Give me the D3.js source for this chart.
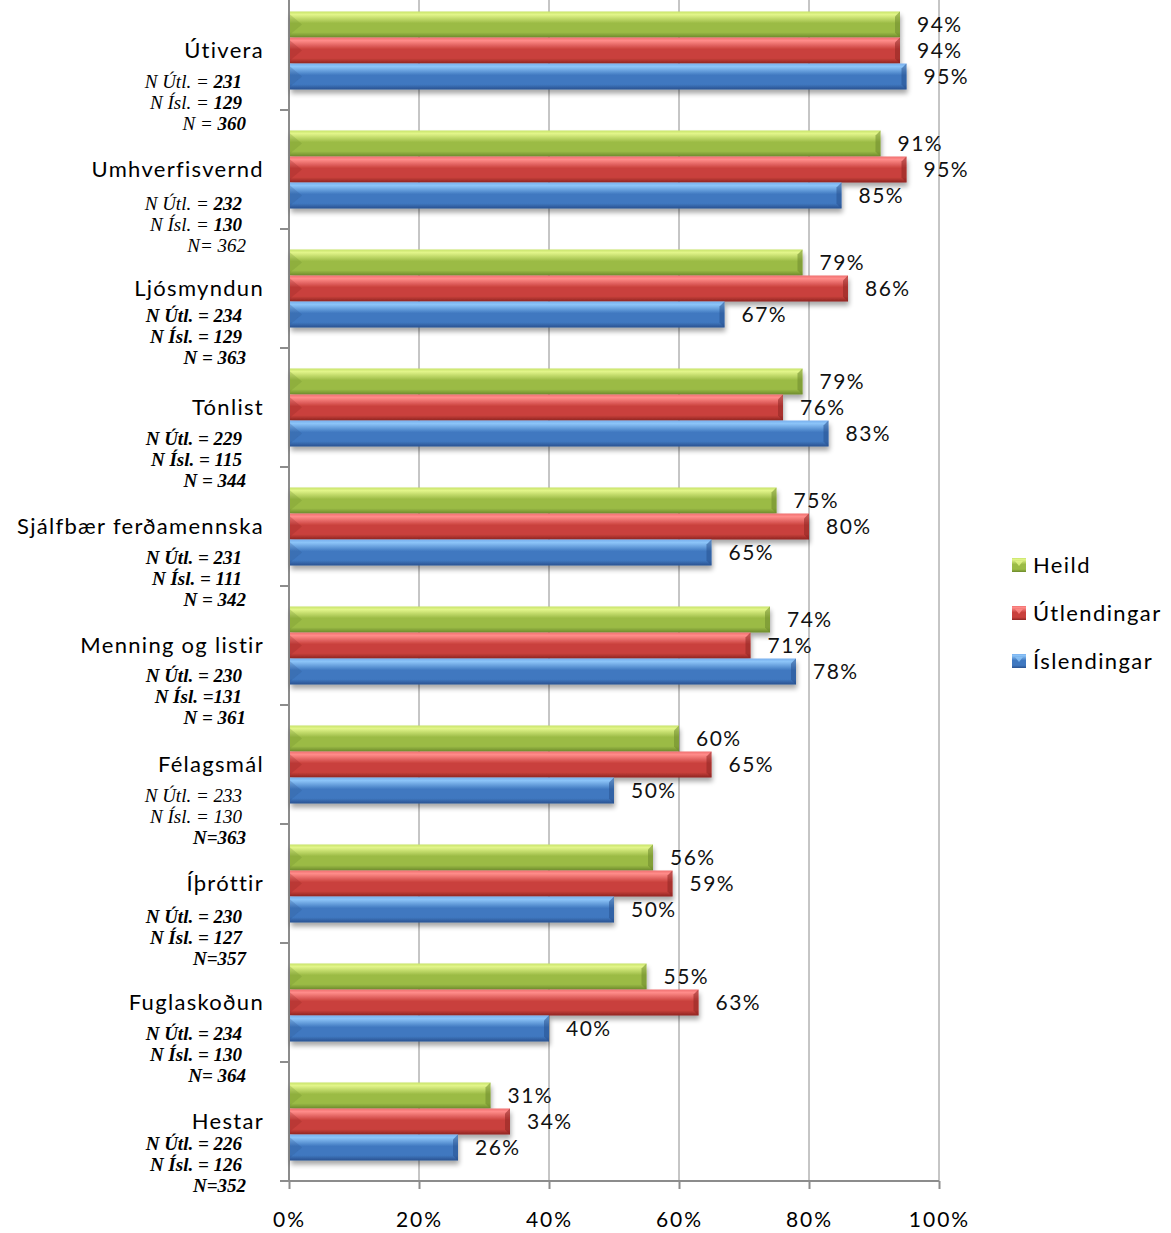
<!DOCTYPE html>
<html>
<head>
<meta charset="utf-8">
<script src="https://cdn.jsdelivr.net/npm/d3@7"></script>
<style>
  body { margin: 0; background: #fff; }
  text { font-family: Lato, "Open Sans", sans-serif; }
  .nlab { font-family: "Liberation Serif", serif; font-style: italic; }
</style>
</head>
<body>
<div id="chart"></div>
<script>
// categories, top to bottom
var categories = ["Útivera", "Umhverfisvernd", "Ljósmyndun", "Tónlist", "Sjálfbær ferðamennska",
    "Menning og listir", "Félagsmál", "Íþróttir", "Fuglaskoðun", "Hestar"];

var seriesNames = ["Heild", "Útlendingar", "Íslendingar"];

// percent values per series
var heild       = [94, 91, 79, 79, 75, 74, 60, 56, 55, 31];
var utlendingar = [94, 95, 86, 76, 80, 71, 65, 59, 63, 34];
var islendingar = [95, 85, 67, 83, 65, 78, 50, 50, 40, 26];

var xTicks = [0, 20, 40, 60, 80, 100];

// sample size notes: [regular part, bold part] per line
var nNotes = [
    [["N Útl. = ", "231"], ["N Ísl.  = ", "129"], ["N   = ", "360"]],
    [["N Útl. = ", "232"], ["N Ísl. = ", "130"], ["N= 362", ""]],
    [["", "N Útl. = 234"], ["", "N Ísl. = 129"], ["", "N =  363"]],
    [["", "N Útl. = 229"], ["", "N Ísl. = 115"], ["", "N = 344"]],
    [["", "N Útl. = 231"], ["", "N Ísl. = 111"], ["", "N =  342"]],
    [["", "N Útl. = 230"], ["", "N Ísl. =131"], ["", "N = 361"]],
    [["N Útl. = 233", ""], ["N Ísl. = 130", ""], ["", "N=363"]],
    [["", "N Útl. = 230"], ["", "N Ísl. = 127"], ["", "N=357"]],
    [["", "N Útl. = 234"], ["", "N Ísl. = 130"], ["", "N= 364"]],
    [["", "N Útl. = 226"], ["", "N Ísl. = 126"], ["", "N=352"]]
];

var values = [heild, utlendingar, islendingar];

// the note boxes were placed by hand, so they sit a little differently per row
var noteShift = [0, 3, -4, 0, 0, -1, 0, 2, 0, -9];

var colors = {
    "Heild":       { light: "#e2f58a", mid: "#9bbb45", dark: "#6d8a2c", edge: "#c8e36a" },
    "Útlendingar": { light: "#ff8c8a", mid: "#c9403c", dark: "#8e2522", edge: "#f07070" },
    "Íslendingar": { light: "#8cc4f8", mid: "#3f78c0", dark: "#2a5290", edge: "#79b0ee" }
};

var width = 1171, height = 1233;
var plot = { left: 289, right: 939, top: -9, bottom: 1181 };

var svg = d3.select("#chart").append("svg")
    .attr("width", width)
    .attr("height", height);

var defs = svg.append("defs");

seriesNames.forEach(function(s, i) {
    var c = colors[s];
    var g = defs.append("linearGradient")
        .attr("id", "grad" + i)
        .attr("x1", 0).attr("y1", 0).attr("x2", 0).attr("y2", 1);
    g.append("stop").attr("offset", "0%").attr("stop-color", c.edge);
    g.append("stop").attr("offset", "12%").attr("stop-color", c.light);
    g.append("stop").attr("offset", "45%").attr("stop-color", c.mid);
    g.append("stop").attr("offset", "80%").attr("stop-color", c.mid);
    g.append("stop").attr("offset", "100%").attr("stop-color", c.dark);
});

var shadow = defs.append("filter").attr("id", "shadow")
    .attr("x", "-5%").attr("y", "-30%").attr("width", "110%").attr("height", "180%");
shadow.append("feGaussianBlur").attr("in", "SourceAlpha").attr("stdDeviation", 2.5);
shadow.append("feOffset").attr("dx", 1).attr("dy", 4).attr("result", "b");
shadow.append("feComponentTransfer").append("feFuncA").attr("type", "linear").attr("slope", 0.35);
var merge = shadow.append("feMerge");
merge.append("feMergeNode");
merge.append("feMergeNode").attr("in", "SourceGraphic");

var x = d3.scaleLinear().domain([0, 100]).range([plot.left, plot.right]);

var y0 = d3.scaleBand().domain(categories).range([plot.top, plot.bottom]);
var y1 = d3.scaleBand().domain(seriesNames)
    .range([y0.bandwidth() * 0.172, y0.bandwidth() * 0.828]);

// gridlines
svg.append("g").selectAll("line")
    .data(xTicks.slice(1))
    .enter().append("line")
    .attr("x1", function(d) { return x(d); })
    .attr("x2", function(d) { return x(d); })
    .attr("y1", 0)
    .attr("y2", plot.bottom)
    .attr("stroke", "#8c8c8c")
    .attr("stroke-width", 1);

// bottom axis
var xAxis = d3.axisBottom(x)
    .tickValues(xTicks)
    .tickFormat(function(d) { return d + "%"; })
    .tickSize(8)
    .tickPadding(23);

var gx = svg.append("g")
    .attr("transform", "translate(0," + plot.bottom + ")")
    .call(xAxis);
gx.select(".domain").remove();
gx.append("line").attr("x1", plot.left - 9).attr("x2", plot.right).attr("y1", 0).attr("y2", 0)
    .attr("stroke", "#8c8c8c").attr("stroke-width", 2);
gx.selectAll(".tick line").attr("stroke", "#8c8c8c").attr("stroke-width", 2);
gx.selectAll(".tick text")
    .style("font-family", "Lato, sans-serif")
    .style("font-size", "21px")
    .style("letter-spacing", "2px")
    .attr("fill", "#000");

// left axis line and category separator ticks
svg.append("line")
    .attr("x1", plot.left).attr("x2", plot.left)
    .attr("y1", 0).attr("y2", plot.bottom)
    .attr("stroke", "#8c8c8c").attr("stroke-width", 2);

svg.append("g").selectAll("line")
    .data(categories.slice(1))
    .enter().append("line")
    .attr("x1", plot.left - 9).attr("x2", plot.left)
    .attr("y1", function(d) { return y0(d); })
    .attr("y2", function(d) { return y0(d); })
    .attr("stroke", "#8c8c8c").attr("stroke-width", 2);

// bars
var groups = svg.append("g").selectAll(".cat")
    .data(categories)
    .enter().append("g")
    .attr("class", "cat")
    .attr("transform", function(d) { return "translate(0," + y0(d) + ")"; });

seriesNames.forEach(function(s, si) {
    var c = colors[s];
    var bars = groups.append("g")
        .attr("filter", "url(#shadow)");

    bars.append("rect")
        .attr("x", x(0) + 1)
        .attr("y", y1(s))
        .attr("width", function(d, i) { return x(values[si][i]) - x(0) - 1; })
        .attr("height", y1.bandwidth())
        .attr("fill", "url(#grad" + si + ")");

    // bevel at the right end
    bars.append("path")
        .attr("d", function(d, i) {
            var xe = x(values[si][i]), yt = y1(s), h = y1.bandwidth(), b = 5;
            return "M" + (xe - b) + "," + (yt + b) + "L" + xe + "," + yt + "L" + xe + "," + (yt + h) +
                "L" + (xe - b) + "," + (yt + h - b) + "Z";
        })
        .attr("fill", c.dark)
        .attr("opacity", 0.55);

    // chevron at the left end
    bars.append("path")
        .attr("d", function() {
            var xs = x(0) + 1, yt = y1(s), h = y1.bandwidth();
            return "M" + xs + "," + (yt + 3) + "L" + (xs + 12) + "," + (yt + h / 2) + "L" + xs + "," + (yt + h - 3) + "Z";
        })
        .attr("fill", c.dark)
        .attr("opacity", 0.25);

    // value labels
    groups.append("text")
        .attr("x", function(d, i) { return x(values[si][i]) + 17; })
        .attr("y", function() { return y1(s) + y1.bandwidth() / 2; })
        .attr("dy", "0.36em")
        .style("font-size", "21px")
        .style("letter-spacing", "1.5px")
        .attr("fill", "#111")
        .text(function(d, i) { return values[si][i] + "%"; });
});

// category labels
groups.append("text")
    .attr("x", 264)
    .attr("y", y0.bandwidth() / 2)
    .attr("dy", "0.32em")
    .attr("text-anchor", "end")
    .style("font-size", "22px")
    .style("letter-spacing", "1.3px")
    .attr("fill", "#000")
    .text(function(d) { return d; });

// N notes
groups.each(function(d, ci) {
    var g = d3.select(this);
    nNotes[ci].forEach(function(line, li) {
        var t = g.append("text")
            .attr("class", "nlab")
            .attr("x", li === 2 ? 246 : 242)
            .attr("y", y0.bandwidth() / 2 + 37 + noteShift[ci] + li * 21)
            .attr("text-anchor", "end")
            .style("font-size", "19px")
            .attr("fill", "#000");
        t.append("tspan").text(line[0]);
        t.append("tspan").style("font-weight", "bold").text(line[1]);
    });
});

// legend
var legend = svg.append("g").selectAll(".leg")
    .data(seriesNames)
    .enter().append("g")
    .attr("transform", function(d, i) { return "translate(1012," + (565 + i * 48) + ")"; });

legend.append("rect")
    .attr("x", 0).attr("y", -7)
    .attr("width", 14).attr("height", 14)
    .attr("fill", function(d, i) { return "url(#grad" + i + ")"; });

legend.append("path")
    .attr("d", "M3,-4L11,-4L7,1Z")
    .attr("fill", function(d) { return colors[d].light; })
    .attr("opacity", 0.8);

legend.append("text")
    .attr("x", 21)
    .attr("y", 0)
    .attr("dy", "0.36em")
    .style("font-size", "22px")
    .style("letter-spacing", "1.4px")
    .attr("fill", "#000")
    .text(function(d) { return d; });
</script>
</body>
</html>
